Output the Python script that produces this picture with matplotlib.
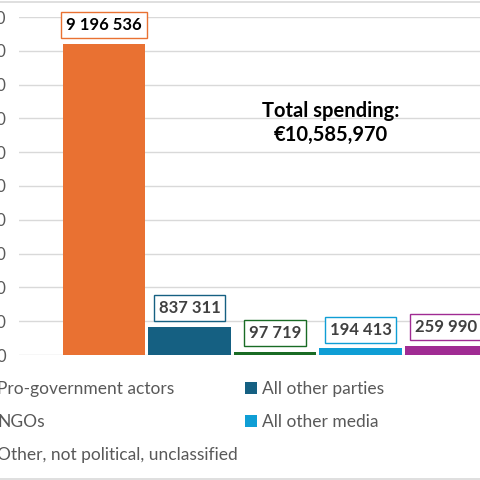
import matplotlib
matplotlib.use("Agg")
import matplotlib.pyplot as plt
from matplotlib.patches import Patch
from matplotlib.lines import Line2D

plt.rcParams["font.family"] = ["Lato", "DejaVu Sans"]

# Spending per actor group (EUR)
categories = [
    "Pro-government actors",
    "All other parties",
    "NGOs",
    "All other media",
    "Other, not political, unclassified",
]
values = [9196536, 837311, 97719, 194413, 259990]
colors = ["#E97132", "#156082", "#196B24", "#0F9ED5", "#A02B93"]
total_text = "Total spending:\n€10,585,970"
y_ticks = list(range(0, 10000001, 1000000))


def fmt_space(v):
    return f"{v:,}".replace(",", " ")


fig = plt.figure(figsize=(4.8, 4.8), dpi=100)
# axes deliberately runs off the left/right edge (cropped chart)
ax = fig.add_axes([19 / 480, 125 / 480, 512 / 480, 338 / 480])

x = list(range(len(values)))
ax.bar(x, values, width=0.97, color=colors, zorder=2)

ax.set_xlim(-0.994, len(values) - 1 + 0.994)
ax.set_ylim(0, 10000000)
ax.set_yticks(y_ticks)
ax.set_yticklabels([fmt_space(t) for t in y_ticks])
ax.tick_params(axis="y", length=0, pad=9.5, labelsize=12, labelcolor="#595959")
ax.set_xticks([])
for s in ax.spines.values():
    s.set_visible(False)
ax.grid(axis="y", color="#D9D9D9", linewidth=1)
ax.set_axisbelow(True)

# data labels in boxes
for i, (v, c) in enumerate(zip(values, colors)):
    ax.annotate(
        fmt_space(v),
        xy=(i, v),
        xytext=(0, 13.5),
        textcoords="offset points",
        ha="center",
        va="center",
        fontsize=12,
        fontweight="bold",
        color="#000000" if i == 0 else "#404040",
        bbox=dict(boxstyle="square,pad=0.3", fc="white", ec=c, lw=1),
        zorder=3,
    )

fig.text(331 / 480, 1 - 123 / 480, total_text, ha="center", va="center",
         fontsize=14.5, fontweight="bold", color="#000000", linespacing=1.3)

# legend, Excel fills row-wise so reorder for column-major layout
order = [0, 2, 4, 1, 3]
handles = [Patch(facecolor=colors[i]) for i in order]
labels = [categories[i] for i in order]
fig.legend(handles, labels, ncol=2, loc="upper left",
           bbox_to_anchor=(-19 / 480, 1 - 381 / 480), frameon=False,
           fontsize=12.5, labelcolor="#595959", handlelength=0.7,
           handleheight=0.7, handletextpad=0.25, columnspacing=0.4,
           labelspacing=0.98, borderpad=0, borderaxespad=0)

# chart area border (top and bottom visible in crop)
for yy in [1 - 1.5 / 480, 1.5 / 480]:
    fig.add_artist(Line2D([0, 1], [yy, yy], transform=fig.transFigure,
                          color="#D9D9D9", linewidth=1.2))

fig.savefig("out.png", dpi=100)
